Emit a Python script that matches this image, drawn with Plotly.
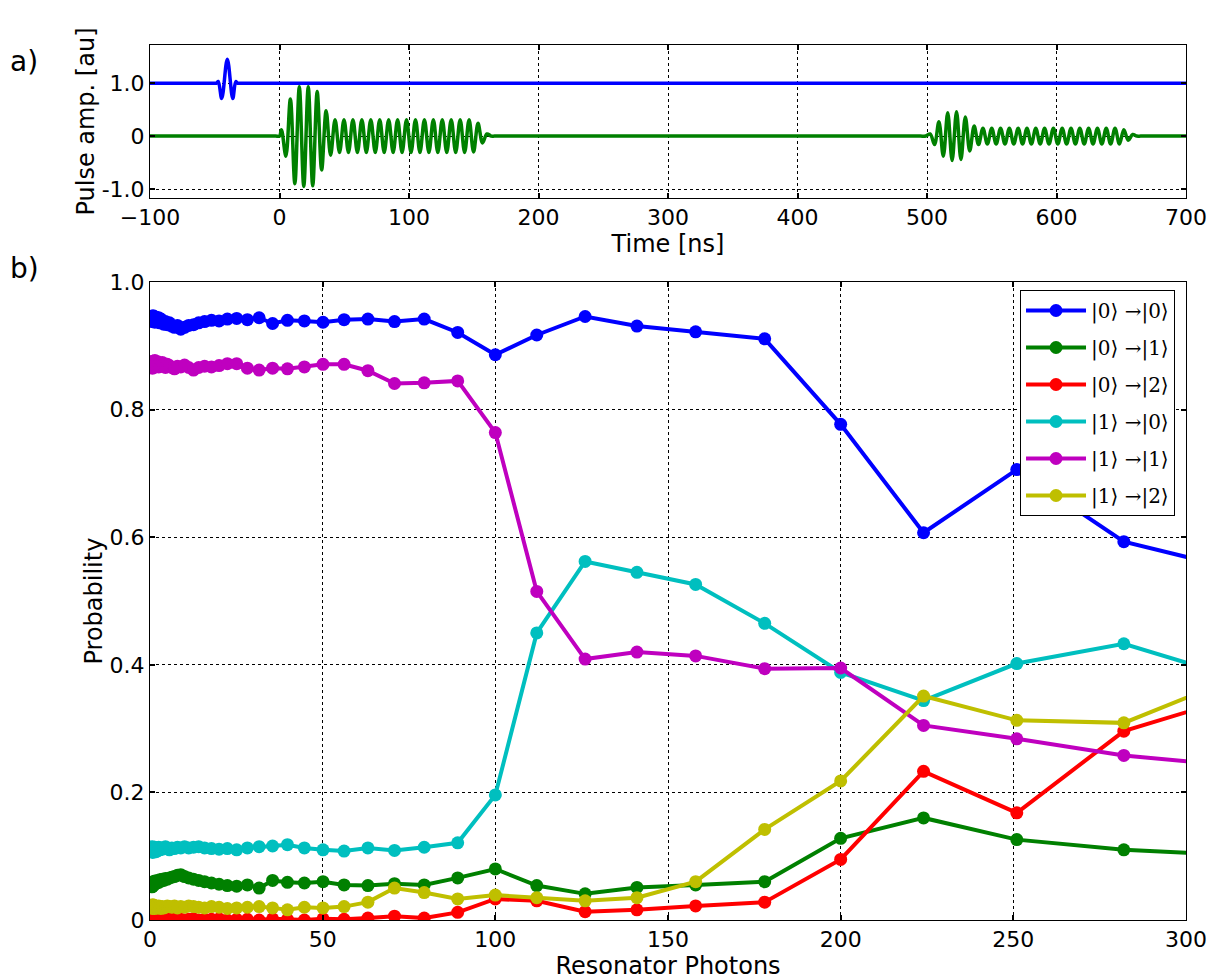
import plotly.graph_objects as go

# ---------------- panel a) pulse sequence (extrema read from picture) ----------------
qubit_t = [-100, -55, -50, -48.6, -47.3, -44.6, -40.3, -36.1, -33.8, -32.5, -31, -26, 700]
qubit_v = [1.0, 1.0, 1.0, 1.0, 1.03, 0.71, 1.45, 0.71, 1.03, 1.0, 1.0, 1.0, 1.0]

meas1_t = [1.5, 4.95, 8.4, 11.85, 15.3, 18.75, 22.2, 25.65, 29.1, 32.55, 36.0, 39.45,
           42.9, 46.35, 49.8, 53.25, 56.7, 60.15, 63.6, 67.05, 70.5, 73.95, 77.4, 80.85,
           84.3, 87.75, 91.2, 94.65, 98.1, 101.55, 105.0, 108.45, 111.9, 115.35, 118.8,
           122.25, 125.7, 129.15, 132.6, 136.05, 139.5, 142.95, 146.4, 149.85, 153.3,
           156.75, 160.2]
meas1_v = [0.12, -0.38, 0.70, -0.90, 0.93, -0.95, 0.93, -0.94, 0.84, -0.64, 0.48, -0.36,
           0.31, -0.31, 0.31, -0.31, 0.31, -0.31, 0.31, -0.31, 0.31, -0.31, 0.31, -0.31,
           0.31, -0.31, 0.31, -0.31, 0.31, -0.31, 0.31, -0.31, 0.31, -0.31, 0.31, -0.31,
           0.31, -0.31, 0.31, -0.31, 0.31, -0.31, 0.31, -0.30, 0.24, -0.13, 0.04]

meas2_t = [502.4, 505.8, 509.2, 512.6, 516.0, 519.4, 522.8, 526.2, 529.6, 533.0, 536.4,
           539.8, 543.2, 546.6, 550.0, 553.4, 556.8, 560.2, 563.6, 567.0, 570.4, 573.8,
           577.2, 580.6, 584.0, 587.4, 590.8, 594.2, 597.6, 601.0, 604.4, 607.8, 611.2,
           614.6, 618.0, 621.4, 624.8, 628.2, 631.6, 635.0, 638.4, 641.8, 645.2, 648.6,
           652.0, 655.4, 658.8]
meas2_v = [0.04, -0.16, 0.27, -0.38, 0.44, -0.46, 0.46, -0.44, 0.36, -0.28, 0.19, -0.16,
           0.15, -0.15, 0.15, -0.15, 0.15, -0.15, 0.15, -0.15, 0.15, -0.15, 0.15, -0.15,
           0.15, -0.15, 0.15, -0.15, 0.15, -0.15, 0.15, -0.15, 0.15, -0.15, 0.15, -0.15,
           0.15, -0.15, 0.15, -0.15, 0.15, -0.15, 0.15, -0.15, 0.12, -0.08, 0.03]

# flat baseline stretches of the measurement channel
base_pre_t = [-100, -10, -3, 0]
base_mid_t = [163.5, 166, 171, 490, 495, 499]
base_post_t = [662, 665, 670, 700]

# ---------------- panel b) transition probabilities ----------------
photons = [0.63, 0.71, 0.79, 0.89, 1.0, 1.12, 1.26, 1.41, 1.58, 1.78,
           2.0, 2.24, 2.51, 2.82, 3.16, 3.55, 3.98, 4.47, 5.01, 5.62,
           6.31, 7.08, 7.94, 8.91, 10.0, 11.2, 12.6, 14.1, 15.8, 17.8,
           20.0, 22.4, 25.1, 28.2, 31.6, 35.5, 39.8, 44.7, 50.1, 56.2,
           63.1, 70.8, 79.4, 89.1, 100, 112, 126, 141, 158, 178,
           200, 224, 251, 282, 316]

p00 = [0.946, 0.938, 0.944, 0.947, 0.940, 0.943, 0.946, 0.937, 0.942, 0.945,
       0.939, 0.941, 0.944, 0.936, 0.942, 0.939, 0.934, 0.938, 0.933, 0.936,
       0.931, 0.929, 0.932, 0.926, 0.929, 0.932, 0.933, 0.936, 0.938, 0.940,
       0.939, 0.942, 0.943, 0.941, 0.944, 0.935, 0.940, 0.939, 0.937, 0.941,
       0.942, 0.938, 0.942, 0.921, 0.886, 0.917, 0.946, 0.931, 0.922, 0.911,
       0.777, 0.607, 0.706, 0.593, 0.548]
p01 = [0.052, 0.058, 0.055, 0.060, 0.054, 0.059, 0.056, 0.061, 0.057, 0.060,
       0.058, 0.062, 0.059, 0.063, 0.061, 0.064, 0.062, 0.065, 0.064, 0.066,
       0.067, 0.068, 0.070, 0.071, 0.068, 0.066, 0.064, 0.062, 0.060, 0.058,
       0.056, 0.054, 0.053, 0.055, 0.050, 0.062, 0.059, 0.058, 0.060, 0.055,
       0.054, 0.057, 0.055, 0.066, 0.080, 0.054, 0.041, 0.051, 0.055, 0.060,
       0.128, 0.160, 0.126, 0.110, 0.101]
p02 = [0.001, 0.002, 0.001, 0.000, 0.002, 0.001, 0.000, 0.001, 0.002, 0.000,
       0.001, 0.002, 0.000, 0.001, 0.001, 0.002, 0.000, 0.001, 0.002, 0.001,
       0.000, 0.001, 0.002, 0.001, 0.000, 0.001, 0.002, 0.000, 0.001, 0.001,
       0.002, 0.000, 0.001, 0.001, 0.000, 0.002, 0.001, 0.000, 0.002, 0.001,
       0.003, 0.006, 0.003, 0.012, 0.033, 0.030, 0.013, 0.016, 0.022, 0.028,
       0.095, 0.233, 0.168, 0.296, 0.352]
p10 = [0.110, 0.115, 0.106, 0.112, 0.108, 0.113, 0.109, 0.114, 0.111, 0.107,
       0.112, 0.109, 0.114, 0.110, 0.113, 0.111, 0.112, 0.115, 0.112, 0.110,
       0.113, 0.112, 0.114, 0.113, 0.115, 0.113, 0.114, 0.115, 0.113, 0.112,
       0.111, 0.112, 0.110, 0.113, 0.115, 0.116, 0.118, 0.113, 0.110, 0.108,
       0.113, 0.109, 0.114, 0.121, 0.196, 0.450, 0.562, 0.545, 0.526, 0.465,
       0.388, 0.344, 0.402, 0.433, 0.377]
p11 = [0.872, 0.865, 0.876, 0.868, 0.874, 0.866, 0.871, 0.877, 0.869, 0.873,
       0.870, 0.875, 0.867, 0.872, 0.868, 0.874, 0.870, 0.866, 0.871, 0.869,
       0.866, 0.864, 0.868, 0.867, 0.870, 0.866, 0.862, 0.866, 0.868, 0.867,
       0.869, 0.872, 0.872, 0.865, 0.862, 0.865, 0.864, 0.867, 0.871, 0.871,
       0.861, 0.841, 0.842, 0.845, 0.764, 0.515, 0.409, 0.420, 0.414, 0.394,
       0.395, 0.305, 0.284, 0.258, 0.241]
p12 = [0.022, 0.018, 0.024, 0.019, 0.021, 0.023, 0.018, 0.020, 0.022, 0.019,
       0.021, 0.019, 0.022, 0.020, 0.018, 0.021, 0.019, 0.020, 0.022, 0.021,
       0.020, 0.022, 0.019, 0.021, 0.020, 0.022, 0.021, 0.020, 0.019, 0.021,
       0.020, 0.018, 0.019, 0.020, 0.021, 0.019, 0.016, 0.020, 0.019, 0.021,
       0.028, 0.050, 0.043, 0.033, 0.039, 0.035, 0.030, 0.035, 0.060, 0.142,
       0.218, 0.351, 0.313, 0.309, 0.383]

series_names = ["|0⟩ →|0⟩", "|0⟩ →|1⟩", "|0⟩ →|2⟩", "|1⟩ →|0⟩", "|1⟩ →|1⟩", "|1⟩ →|2⟩"]
series_vals = [p00, p01, p02, p10, p11, p12]
series_colors = ["#0000ff", "#008000", "#ff0000", "#00bfbf", "#bf00bf", "#bfbf00"]

time_ticks = [-100, 0, 100, 200, 300, 400, 500, 600, 700]
time_ticktext = ["−100", "0", "100", "200", "300", "400", "500", "600", "700"]
amp_ticks = [-1, 0, 1]
amp_ticktext = ["-1.0", "0", "1.0"]
photon_ticks = [0, 50, 100, 150, 200, 250, 300]
prob_ticks = [0, 0.2, 0.4, 0.6, 0.8, 1.0]
prob_ticktext = ["0", "0.2", "0.4", "0.6", "0.8", "1.0"]

FONT = "DejaVu Sans"

fig = go.Figure()

green_t = base_pre_t + meas1_t + base_mid_t + meas2_t + base_post_t
green_v = ([0.0] * len(base_pre_t) + meas1_v + [0.0] * len(base_mid_t) + meas2_v
           + [0.0] * len(base_post_t))
fig.add_trace(go.Scatter(x=qubit_t, y=qubit_v, mode="lines", xaxis="x", yaxis="y",
                         line=dict(color="#0000ff", width=3.5, shape="spline", smoothing=1.0),
                         showlegend=False, hoverinfo="skip"))
fig.add_trace(go.Scatter(x=green_t, y=green_v, mode="lines", xaxis="x", yaxis="y",
                         line=dict(color="#008000", width=3.5, shape="spline", smoothing=1.0),
                         showlegend=False, hoverinfo="skip"))

for i, (name, vals, col) in enumerate(zip(series_names, series_vals, series_colors)):
    fig.add_trace(go.Scatter(x=photons, y=vals, mode="lines+markers", name=name,
                             xaxis="x2", yaxis="y2", legendgroup=f"g{i}",
                             line=dict(color=col, width=4),
                             marker=dict(color=col, size=13, line=dict(width=0))))

axis_common = dict(
    showline=True, linecolor="black", linewidth=1, mirror="allticks",
    ticks="inside", ticklen=5, tickwidth=2, tickcolor="black",
    showgrid=True, gridcolor="black", gridwidth=1.3, griddash="dot",
    zeroline=False, tickfont=dict(family=FONT, size=22, color="black"),
    automargin=False,
)

fig.update_layout(
    width=1214, height=972,
    margin=dict(l=142, r=36, t=37, b=60),
    paper_bgcolor="white", plot_bgcolor="white",
    font=dict(family=FONT, color="black"),
    xaxis=dict(domain=[0, 1], anchor="y", range=[-100, 700],
               tickvals=time_ticks, ticktext=time_ticktext,
               title=dict(text="Time [ns]", font=dict(size=24), standoff=0),
               **axis_common),
    yaxis=dict(domain=[0.8251, 1.0], anchor="x", range=[-1.17, 1.72],
               tickvals=amp_ticks, ticktext=amp_ticktext,
               title=dict(text="Pulse amp. [au]", font=dict(size=24), standoff=0),
               **axis_common),
    xaxis2=dict(domain=[0, 1], anchor="y2", range=[0, 300],
                tickvals=photon_ticks,
                title=dict(text="Resonator Photons", font=dict(size=24), standoff=0),
                **axis_common),
    yaxis2=dict(domain=[0, 0.7291], anchor="x2", range=[0, 1],
                tickvals=prob_ticks, ticktext=prob_ticktext,
                title=dict(text="Probability", font=dict(size=24), standoff=0),
                **axis_common),
    legend=dict(x=0.9894, y=0.72, xanchor="right", yanchor="top",
                bgcolor="white", bordercolor="black", borderwidth=1,
                font=dict(family="DejaVu Serif", size=20, color="black"),
                traceorder="grouped", tracegroupgap=8, itemwidth=60),
    annotations=[
        dict(text="a)", x=-0.1216, y=0.9806, xref="paper", yref="paper",
             xanchor="center", yanchor="middle", showarrow=False,
             font=dict(family=FONT, size=28, color="black")),
        dict(text="b)", x=-0.1216, y=0.7451, xref="paper", yref="paper",
             xanchor="center", yanchor="middle", showarrow=False,
             font=dict(family=FONT, size=28, color="black")),
    ],
)

fig.write_html("out.html")
